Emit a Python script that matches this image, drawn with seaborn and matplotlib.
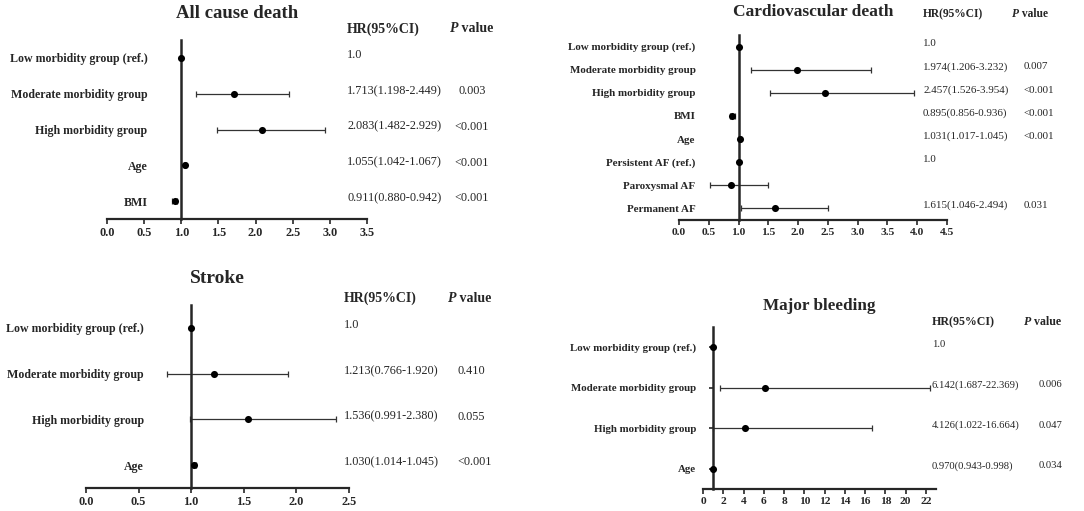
import numpy as np
import pandas as pd
import seaborn as sns
import matplotlib.pyplot as plt

sns.set_style("ticks")
plt.rcParams["font.family"] = ["Liberation Serif", "DejaVu Serif"]

W, H = 1084, 511

# All cause death
acd_labels = ["Low morbidity group (ref.)", "Moderate morbidity group",
              "High morbidity group", "Age", "BMI"]
acd_hr = [1.0, 1.713, 2.083, 1.055, 0.911]
acd_lo = [np.nan, 1.198, 1.482, 1.042, 0.880]
acd_hi = [np.nan, 2.449, 2.929, 1.067, 0.942]
acd_p = ["", "0.003", "<0.001", "<0.001", "<0.001"]

# Cardiovascular death
cvd_labels = ["Low morbidity group (ref.)", "Moderate morbidity group",
              "High morbidity group", "BMI", "Age", "Persistent AF (ref.)",
              "Paroxysmal AF", "Permanent AF"]
cvd_hr = [1.0, 1.974, 2.457, 0.895, 1.031, 1.0, 0.87, 1.615]
cvd_lo = [np.nan, 1.206, 1.526, 0.856, 1.017, np.nan, 0.515, 1.046]
cvd_hi = [np.nan, 3.232, 3.954, 0.936, 1.045, np.nan, 1.50, 2.494]
cvd_p = ["", "0.007", "<0.001", "<0.001", "<0.001", "", "", "0.031"]
cvd_no_text = ["Paroxysmal AF"]

# Stroke
stk_labels = ["Low morbidity group (ref.)", "Moderate morbidity group",
              "High morbidity group", "Age"]
stk_hr = [1.0, 1.213, 1.536, 1.030]
stk_lo = [np.nan, 0.766, 0.991, 1.014]
stk_hi = [np.nan, 1.920, 2.380, 1.045]
stk_p = ["", "0.410", "0.055", "<0.001"]

# Major bleeding
mb_labels = ["Low morbidity group (ref.)", "Moderate morbidity group",
             "High morbidity group", "Age"]
mb_hr = [1.0, 6.142, 4.126, 0.970]
mb_lo = [np.nan, 1.687, 1.022, 0.943]
mb_hi = [np.nan, 22.369, 16.664, 0.998]
mb_p = ["", "0.006", "0.047", "0.034"]

fig = plt.figure(figsize=(W / 100, H / 100), dpi=100)


def fig_xy(x, y):
    return x / W, 1 - y / H


def forest(box, title, labels, hr, lo, hi, pvals, xmax, xticks, tick_fmt,
           fs, ypad, ytick_len, title_pad, hr_x, p_x, p_ha, head_y, head_p_x,
           no_text=()):
    l, t, r, b = box
    ax = fig.add_axes([l / W, 1 - b / H, (r - l) / W, (b - t) / H])
    df = pd.DataFrame({"label": labels, "hr": hr, "lo": lo, "hi": hi, "p": pvals})
    df["row"] = np.arange(len(df))

    ci = df.dropna(subset=["lo"])
    ax.errorbar(ci["hr"], ci["row"],
                xerr=[ci["hr"] - ci["lo"], ci["hi"] - ci["hr"]],
                fmt="none", ecolor="#333333", elinewidth=0.9,
                capsize=2.5, capthick=0.9, zorder=2)
    sns.scatterplot(data=df, x="hr", y="row", color="black", s=26,
                    linewidth=0, ax=ax, zorder=4, legend=False)

    # the HR = 1 reference line is the left spine (set first: it resets ticks)
    ax.spines["left"].set_position(("data", 1))
    ax.spines["left"].set_linewidth(1.8)
    ax.spines["bottom"].set_linewidth(1.6)
    ax.spines[["top", "right"]].set_visible(False)

    ax.set_xlim(0, xmax)
    ax.set_ylim(len(df) - 0.5, -0.5)
    ax.set_xticks(xticks)
    ax.set_xticklabels([tick_fmt.format(v) for v in xticks],
                       fontweight="bold", fontsize=fs["tick"])
    ax.set_yticks(df["row"])
    ax.set_yticklabels(labels, fontweight="bold", fontsize=fs["label"])
    ax.set_xlabel("")
    ax.set_ylabel("")
    ax.tick_params(axis="y", length=ytick_len, width=1.2, pad=ypad)
    ax.tick_params(axis="x", length=3.5, width=1.2, pad=2)

    ax.set_title(title, fontsize=fs["title"], fontweight="bold", pad=title_pad)

    # HR and P value columns
    hx, hy = fig_xy(hr_x, head_y)
    fig.text(hx, hy, "HR(95%CI)", fontsize=fs["head"], fontweight="bold",
             va="center", ha="left")
    px, _ = fig_xy(head_p_x, head_y)
    ptxt = fig.text(px, hy, "P", fontsize=fs["head"], fontweight="bold",
                    style="italic", va="center", ha="left")
    ax.annotate(" value", xy=(1, 0), xycoords=ptxt, fontsize=fs["head"],
                fontweight="bold", va="bottom", ha="left")

    for _, row in df.iterrows():
        if row["label"] in no_text:
            txt = ""
        elif np.isnan(row["lo"]):
            txt = "1.0"
        else:
            txt = f"{row['hr']:.3f}({row['lo']:.3f}-{row['hi']:.3f})"
        ax.annotate(txt, xy=(hr_x / W, row["row"]),
                    xycoords=("figure fraction", "data"),
                    xytext=(0, 2), textcoords="offset points",
                    fontsize=fs["value"], va="center", ha="left")
        ax.annotate(row["p"], xy=(p_x / W, row["row"]),
                    xycoords=("figure fraction", "data"),
                    xytext=(0, 2), textcoords="offset points",
                    fontsize=fs["value"], va="center", ha=p_ha)
    return ax


big = {"title": 13.5, "label": 8.6, "value": 8.8, "head": 10, "tick": 8.8}
small = {"title": 12.5, "label": 7.9, "value": 7.9, "head": 8.3, "tick": 8.2}

forest((107, 40, 367, 219), "All cause death", acd_labels, acd_hr, acd_lo,
       acd_hi, acd_p, 3.5, np.arange(0, 3.51, 0.5), "{:.1f}", big,
       ypad=24.5, ytick_len=0, title_pad=15.5, hr_x=347, p_x=472, p_ha="center",
       head_y=29, head_p_x=450)

forest((679, 35, 947, 220), "Cardiovascular death", cvd_labels, cvd_hr, cvd_lo,
       cvd_hi, cvd_p, 4.5, np.arange(0, 4.51, 0.5), "{:.1f}", small,
       ypad=31, ytick_len=0, title_pad=14, hr_x=923, p_x=1024, p_ha="left",
       head_y=14, head_p_x=1012, no_text=cvd_no_text)

forest((86, 305, 349, 488), "Stroke", stk_labels, stk_hr, stk_lo, stk_hi,
       stk_p, 2.5, np.arange(0, 2.51, 0.5), "{:.1f}", dict(big, title=14),
       ypad=34, ytick_len=0, title_pad=15.5, hr_x=344, p_x=457, p_ha="left",
       head_y=298, head_p_x=448)

forest((703, 327, 936, 489), "Major bleeding", mb_labels, mb_hr, mb_lo, mb_hi,
       mb_p, 23, np.arange(0, 23, 2), "{:.0f}",
       dict(small, title=12.3, head=8.6, value=7.7, label=7.8),
       ypad=9.4, ytick_len=3, title_pad=12, hr_x=932, p_x=1039, p_ha="left",
       head_y=322, head_p_x=1024)

fig.savefig("out.png", dpi=100)
